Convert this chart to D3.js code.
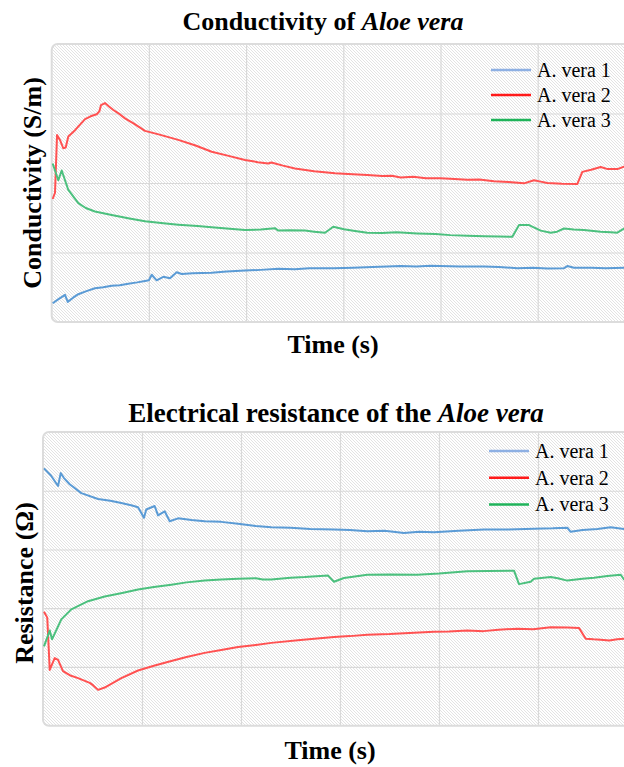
<!DOCTYPE html>
<html>
<head>
<meta charset="utf-8">
<script src="https://cdn.jsdelivr.net/npm/d3@7"></script>
<style>
html,body{margin:0;padding:0;background:#fff;}
svg{display:block;}
text{font-family:"Liberation Serif","Times New Roman",serif;fill:#000;}
</style>
</head>
<body>
<svg id="chart" width="624" height="767"></svg>
<script>
// ---------- DATA ----------
const seriesNames = ["A. vera 1", "A. vera 2", "A. vera 3"];
const timeTicks = [0, 100, 200, 300, 400, 500, 600];
const condTicks = [0, 1, 2, 3, 4];
const resTicks = [0, 1, 2, 3, 4, 5];

// Conductivity (arbitrary units, one unit per gridline), time in s
const condVera1 = [[1,0.27],[7,0.33],[13.7,0.39],[16.5,0.29],[22,0.35],[27.4,0.40],[35,0.44],[44.5,0.485],[53,0.50],[61.7,0.52],[70,0.53],[78.8,0.55],[88,0.57],[96,0.59],[100,0.60],[102.9,0.68],[108,0.60],[114.8,0.65],[121.7,0.63],[128.6,0.715],[133.7,0.69],[145,0.70],[164.6,0.71],[180,0.725],[198.9,0.74],[215,0.75],[233.1,0.765],[250,0.76],[265,0.775],[290,0.775],[310,0.78],[330,0.79],[345,0.80],[359,0.805],[375,0.80],[390,0.81],[399.5,0.805],[420,0.80],[444.8,0.80],[460,0.79],[479,0.775],[495,0.78],[510,0.77],[527.1,0.775],[530.5,0.805],[537.3,0.78],[555,0.78],[570,0.775],[588.8,0.78],[600,0.775]];
const condVera2 = [[1,1.77],[3.4,1.86],[5.5,2.69],[8.5,2.62],[11.9,2.50],[14.4,2.51],[17.1,2.67],[24,2.76],[34.3,2.92],[40,2.96],[46.3,2.99],[49,3.03],[50.7,3.12],[54.8,3.15],[59,3.10],[63.4,3.05],[70,2.99],[75.4,2.93],[85,2.85],[96,2.75],[110,2.70],[130.2,2.62],[148,2.54],[164.6,2.45],[182,2.39],[198.9,2.33],[212,2.30],[222.8,2.28],[226,2.295],[238,2.25],[250.3,2.21],[270,2.17],[291.5,2.14],[305,2.13],[324.7,2.115],[340,2.10],[350,2.105],[359,2.08],[372,2.09],[385,2.07],[399.5,2.07],[410,2.06],[427.6,2.045],[440,2.05],[455,2.025],[470,2.015],[485.9,1.995],[496.2,2.04],[503,2.02],[509.9,2.00],[525,1.99],[540.7,1.985],[545.9,2.16],[555,2.19],[564.8,2.23],[572,2.20],[581.9,2.20],[588.8,2.235],[600,2.22]];
const condVera3 = [[1,2.28],[6.8,2.04],[10.3,2.18],[17.1,1.90],[27.4,1.71],[35,1.64],[44.5,1.59],[61.7,1.54],[80,1.49],[96,1.45],[115,1.42],[130.2,1.40],[150,1.38],[164.6,1.365],[180,1.345],[198.9,1.325],[215,1.33],[229.7,1.35],[233.1,1.315],[245,1.32],[260.6,1.315],[270,1.30],[281.2,1.285],[289.7,1.37],[300.7,1.335],[312,1.31],[324.7,1.285],[340,1.28],[355,1.29],[376.1,1.275],[395,1.265],[410,1.25],[427.6,1.24],[445,1.235],[460,1.23],[473.9,1.225],[480.8,1.395],[491.1,1.395],[503.1,1.315],[513.4,1.285],[520,1.30],[527.1,1.345],[537,1.33],[547.6,1.325],[564.8,1.30],[575,1.29],[581.9,1.285],[588.8,1.345],[600,1.33]];

// Resistance (arbitrary units, one unit per gridline), time in s
const resVera1 = [[1,4.38],[8,4.26],[15.2,4.08],[17.9,4.30],[21,4.22],[27,4.11],[38.7,3.96],[55.6,3.86],[68,3.83],[79.1,3.79],[90,3.75],[96,3.72],[102,3.54],[104.3,3.68],[112.8,3.74],[116.2,3.58],[122.9,3.65],[128,3.48],[136.4,3.53],[150,3.50],[163.3,3.48],[180,3.47],[197,3.44],[215,3.40],[230.6,3.38],[250,3.37],[270,3.35],[293.9,3.34],[310,3.33],[327.6,3.31],[345,3.32],[364.6,3.28],[380,3.30],[394.9,3.295],[420,3.32],[445.5,3.34],[470,3.34],[496,3.355],[515,3.36],[529.6,3.37],[533,3.30],[545,3.33],[560,3.35],[573.4,3.38],[586.9,3.35],[600,3.36]];
const resVera2 = [[1,1.94],[4.3,1.84],[6.8,0.95],[11.8,1.15],[15.2,1.12],[20.2,0.93],[27,0.86],[35.4,0.81],[47.2,0.73],[50.5,0.69],[55.6,0.61],[62.3,0.65],[79.1,0.81],[96,0.94],[112,1.02],[129.6,1.10],[145,1.17],[163.3,1.24],[180,1.29],[197,1.34],[215,1.375],[230.6,1.41],[260,1.46],[293.9,1.51],[310,1.525],[327.6,1.55],[350,1.56],[370,1.58],[394.9,1.60],[410,1.605],[428.6,1.62],[445,1.61],[460,1.635],[479.1,1.65],[495,1.64],[512.8,1.675],[530,1.67],[541.4,1.665],[548.2,1.48],[556,1.47],[563.3,1.465],[572,1.45],[580,1.47],[586.9,1.48],[600,1.47]];
const resVera3 = [[1,1.35],[6.8,1.62],[9.1,1.47],[18.5,1.81],[28.6,1.98],[45.5,2.12],[62.3,2.20],[80,2.26],[96,2.32],[112,2.36],[129.6,2.40],[145,2.44],[163.3,2.47],[180,2.49],[197,2.50],[215,2.51],[222,2.49],[230.6,2.49],[250,2.52],[264.3,2.53],[280,2.55],[287.9,2.555],[293.9,2.45],[304,2.515],[327.6,2.57],[350,2.575],[378.1,2.57],[400,2.59],[428.6,2.63],[450,2.635],[475.8,2.64],[480.8,2.41],[492.6,2.45],[496,2.50],[512.8,2.53],[520,2.51],[529.6,2.47],[545,2.50],[556.6,2.52],[570,2.55],[583.5,2.57],[586.9,2.49],[600,2.50]];

// ---------- STYLE ----------
const lineColors = ["#5b9bd5", "#ff5252", "#4cc07e"];
const legendColors = ["#8eb0e3", "#ff1a1a", "#1fb35a"];
const gridColor = "#d9d9d9";

const svg = d3.select("#chart");
const defs = svg.append("defs");
const pat = defs.append("pattern").attr("id","hatch").attr("patternUnits","userSpaceOnUse")
  .attr("width",3).attr("height",3);
pat.append("rect").attr("width",3).attr("height",3).attr("fill","#ffffff");
pat.append("path").attr("d","M0,0L3,3M-1,2L1,4M2,-1L4,1")
  .attr("stroke","#dcdcdc").attr("stroke-width",0.8);

function drawChart(cfg) {
  const g = svg.append("g");
  const x = d3.scaleLinear().domain([0,600]).range([cfg.left, cfg.right]);
  const y = d3.scaleLinear().domain([0, cfg.yTicks[cfg.yTicks.length-1]]).range([cfg.bottom, cfg.top]);

  defs.append("clipPath").attr("id", cfg.id+"clip").append("rect")
    .attr("x", cfg.left).attr("y", cfg.top).attr("width", cfg.right-cfg.left).attr("height", cfg.bottom-cfg.top);

  g.append("rect").attr("x", cfg.left).attr("y", cfg.top)
    .attr("width", cfg.right-cfg.left).attr("height", cfg.bottom-cfg.top)
    .attr("rx",6).attr("fill","url(#hatch)");

  g.append("g").attr("transform",`translate(0,${cfg.bottom})`)
    .call(d3.axisBottom(x).tickValues(timeTicks).tickSize(-(cfg.bottom-cfg.top)).tickFormat(""))
    .call(s=>s.select(".domain").remove())
    .call(s=>s.selectAll(".tick line").attr("stroke",gridColor).attr("stroke-width",1.2))
    .call(s=>s.selectAll(".tick").filter(d=>d===0).remove());
  g.append("g").attr("transform",`translate(${cfg.left},0)`)
    .call(d3.axisLeft(y).tickValues(cfg.yTicks).tickSize(-(cfg.right-cfg.left)).tickFormat(""))
    .call(s=>s.select(".domain").remove())
    .call(s=>s.selectAll(".tick line").attr("stroke",gridColor).attr("stroke-width",1.2))
    .call(s=>s.selectAll(".tick").filter((d,i,n)=>d===0||i===n.length-1).remove());

  g.append("rect").attr("x", cfg.left).attr("y", cfg.top)
    .attr("width", cfg.right-cfg.left).attr("height", cfg.bottom-cfg.top)
    .attr("rx",6).attr("fill","none").attr("stroke","#dcdcdc").attr("stroke-width",2);

  const line = d3.line().x(d=>x(d[0])).y(d=>y(d[1]));
  const lg = g.append("g").attr("clip-path",`url(#${cfg.id}clip)`);
  cfg.series.forEach((s,i)=>{
    lg.append("path").datum(s).attr("d",line).attr("fill","none")
      .attr("stroke",lineColors[i]).attr("stroke-width",2).attr("stroke-linejoin","round");
  });

  seriesNames.forEach((n,i)=>{
    const ly = cfg.legendY + i*cfg.legendStep;
    g.append("line").attr("x1",cfg.legendX).attr("x2",cfg.legendX+40).attr("y1",ly).attr("y2",ly)
      .attr("stroke",legendColors[i]).attr("stroke-width",2.5);
    g.append("text").attr("x",cfg.legendX+46).attr("y",ly+7).attr("font-size",20).text(n);
  });

  const t = g.append("text").attr("x",cfg.titleX).attr("y",cfg.titleY).attr("text-anchor","middle")
    .attr("font-size",cfg.titleSize).attr("font-weight","bold");
  t.append("tspan").text(cfg.title);
  t.append("tspan").attr("font-style","italic").text("Aloe vera");

  g.append("text").attr("x",cfg.xLabelX).attr("y",cfg.xLabelY).attr("text-anchor","middle")
    .attr("font-size",26).attr("font-weight","bold").text("Time (s)");
  g.append("text").attr("transform",`translate(${cfg.yLabelX},${cfg.yLabelY}) rotate(-90)`)
    .attr("text-anchor","middle").attr("font-size",26).attr("font-weight","bold").text(cfg.yLabel);
}

drawChart({id:"c1", left:51.7, right:51.7+583.2, top:44, bottom:322, yTicks:condTicks,
  series:[condVera1, condVera2, condVera3],
  legendX:491, legendY:70, legendStep:25,
  title:"Conductivity of ", titleX:323, titleY:30, titleSize:26,
  xLabelX:333, xLabelY:353, yLabel:"Conductivity (S/m)", yLabelX:41, yLabelY:183});

drawChart({id:"c2", left:43, right:43+594, top:432, bottom:725.7, yTicks:resTicks,
  series:[resVera1, resVera2, resVera3],
  legendX:489, legendY:451, legendStep:26.7,
  title:"Electrical resistance of the ", titleX:336, titleY:422, titleSize:27,
  xLabelX:330, xLabelY:759, yLabel:"Resistance (Ω)", yLabelX:33, yLabelY:583});
</script>
</body>
</html>
